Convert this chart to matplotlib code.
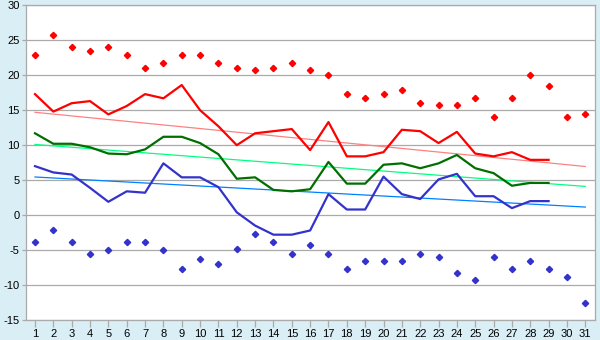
import numpy as np
import matplotlib
matplotlib.use('Agg')
import matplotlib.pyplot as plt

plt.rcParams['font.family'] = ['Liberation Sans', 'DejaVu Sans']
plt.rcParams['axes.unicode_minus'] = False

# days of the month
days = np.arange(1, 32)
line_days = np.arange(1, 30)

# daily extremes (points)
max_pts = [22.9, 25.8, 24.0, 23.4, 24.0, 22.9, 21.0, 21.8, 22.9, 22.9,
           21.8, 21.1, 20.7, 21.1, 21.8, 20.7, 20.0, 17.3, 16.7, 17.3,
           17.9, 16.0, 15.7, 15.7, 16.7, 14.0, 16.7, 20.0, 18.4, 14.0, 14.4]
min_pts = [-3.9, -2.1, -3.9, -5.6, -5.0, -3.9, -3.9, -5.0, -7.7, -6.3,
           -7.0, -4.9, -2.7, -3.9, -5.6, -4.3, -5.6, -7.7, -6.6, -6.6,
           -6.6, -5.6, -6.0, -8.3, -9.3, -6.0, -7.7, -6.6, -7.7, -8.9, -12.6]

# lines (days 1..29)
red_line = [17.3, 14.8, 16.0, 16.3, 14.4, 15.6, 17.3, 16.7, 18.6, 15.0,
            12.7, 10.0, 11.7, 12.0, 12.3, 9.3, 13.3, 8.4, 8.4, 9.0,
            12.2, 12.0, 10.3, 11.9, 8.8, 8.4, 9.0, 7.9, 7.9]
green_line = [11.7, 10.2, 10.2, 9.7, 8.8, 8.7, 9.4, 11.2, 11.2, 10.3,
              8.7, 5.2, 5.4, 3.6, 3.4, 3.7, 7.6, 4.5, 4.5, 7.2,
              7.4, 6.7, 7.4, 8.6, 6.7, 6.0, 4.2, 4.6, 4.6]
blue_line = [7.0, 6.1, 5.8, 3.9, 1.9, 3.4, 3.2, 7.4, 5.4, 5.4,
             4.0, 0.4, -1.5, -2.8, -2.8, -2.2, 3.0, 0.8, 0.8, 5.5,
             3.0, 2.3, 5.1, 5.9, 2.7, 2.7, 1.0, 2.0, 2.0]

# trend lines: value at day 1 and day 31
trend_start = [14.7, 10.1, 5.45]
trend_end = [6.95, 4.1, 1.15]
trend_colors = ['#ff8080', '#00ff80', '#0080ff']

fig = plt.figure(figsize=(6, 3.4), dpi=100, facecolor='#daeef5')
ax = fig.add_axes([26/600, 1-320/340, 569/600, (320-5.3)/340])
ax.set_facecolor('white')

for s, e, c in zip(trend_start, trend_end, trend_colors):
    ax.plot([1, 31], [s, e], color=c, lw=0.9, zorder=2)

ax.plot(line_days, red_line, color='#ff0000', lw=1.6, zorder=3)
ax.plot(line_days, green_line, color='#006f00', lw=1.6, zorder=3)
ax.plot(line_days, blue_line, color='#3333cc', lw=1.6, zorder=3)

ax.plot(days, max_pts, ls='none', marker='D', ms=3.2, color='#ff0000', zorder=4)
ax.plot(days, min_pts, ls='none', marker='D', ms=3.2, color='#3333cc', zorder=4)

ax.set_xlim(0.51, 31.53)
ax.set_ylim(-15, 30)
ax.set_xticks(days)
ax.set_yticks(np.arange(-15, 31, 5))
ax.grid(axis='y', color='#aaaaaa', lw=0.9)
ax.set_axisbelow(True)

for sp in ax.spines.values():
    sp.set_color('#aaaaaa')
    sp.set_linewidth(0.9)

ax.tick_params(axis='both', colors='#aaaaaa', labelcolor='black', labelsize=8,
               width=0.9)
ax.tick_params(axis='x', length=5, pad=1.5)
ax.tick_params(axis='y', length=3, pad=1.5)

fig.savefig('out.png', dpi=100, facecolor=fig.get_facecolor())
